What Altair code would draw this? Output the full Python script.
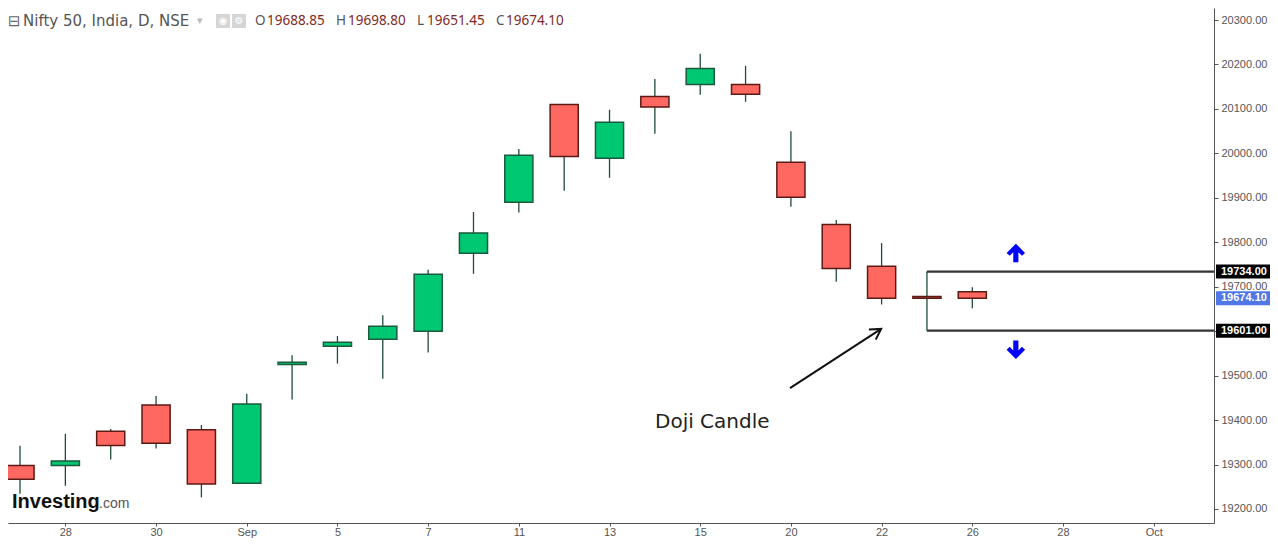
import altair as alt
import pandas as pd

# ---------------- data ----------------
DATES = ["Aug 25", "Aug 28", "Aug 29", "Aug 30", "Aug 31", "Sep 1", "Sep 4", "Sep 5", "Sep 6",
         "Sep 7", "Sep 8", "Sep 11", "Sep 12", "Sep 13", "Sep 14", "Sep 15", "Sep 18", "Sep 20",
         "Sep 21", "Sep 22", "Sep 25", "Sep 26"]
OPENS = [19298, 19298, 19375, 19434, 19378, 19258, 19525, 19566, 19582, 19600, 19775, 19890,
         20110, 19989, 20128, 20155, 20155, 19980, 19840, 19746, 19678, 19688.85]
HIGHS = [19342, 19369, 19380, 19454, 19389, 19459, 19546, 19589, 19636, 19738, 19868, 20010,
         20111, 20098, 20167, 20224, 20197, 20050, 19850, 19798, 19734, 19698.80]
LOWS = [19234, 19252, 19311, 19336, 19226, 19257, 19446, 19527, 19493, 19552, 19729, 19867,
        19916, 19945, 20044, 20132, 20116, 19880, 19711, 19660, 19601, 19651.45]
CLOSES = [19267, 19308, 19343, 19348, 19256, 19436, 19530, 19575, 19611, 19728, 19821, 19996,
          19993, 20070, 20104, 20191, 20133, 19901, 19741, 19674, 19674, 19674.10]

TICK_IDX = [1, 3, 5, 7, 9, 11, 13, 15, 17, 19, 21, 23, 25]
TICK_LABELS = ["28", "30", "Sep", "5", "7", "11", "13", "15", "20", "22", "26", "28", "Oct"]
Y_TICKS = [19200, 19300, 19400, 19500, 19600, 19700, 19800, 19900, 20000, 20100, 20200, 20300]

LEVELS = [19734.0, 19601.0]
LEVEL_START = 20
TAG_VALUES = [19734.0, 19601.0, 19674.10]
TAG_COLORS = ["#000000", "#000000", "#4f78e6"]

ARROW_SEG = [0, 0, 1, 1, 1]
ARROW_ORD = [0, 1, 0, 1, 2]
ARROW_X = [16.98, 18.99, 18.72, 18.99, 18.87]
ARROW_Y = [19472, 19605, 19603.5, 19605, 19581]

SIGNAL_X = [21.96, 21.96]
SIGNAL_Y = [19776, 19558]
SIGNAL_DIR = ["up", "down"]

HEADER = "Nifty 50, India, D, NSE"
OHLC_KEYS = ["O", "H", "L", "C"]
OHLC_VALS = ["19688.85", "19698.80", "19651.45", "19674.10"]

X_MIN, X_MAX = -0.265, 26.33
Y_MIN, Y_MAX = 19168.4, 20327.0

# ---------------- styles ----------------
GREEN = "#00c872"
RED = "#ff6860"
GREEN_EDGE = "#1b5a3c"
RED_EDGE = "#5c1a14"
WICK = "#1f4d36"
AXIS_GREY = "#555555"
PLOT_W, PLOT_H = 1206, 515

df = pd.DataFrame({"date": DATES, "i": list(range(len(DATES))), "open": OPENS,
                   "high": HIGHS, "low": LOWS, "close": CLOSES})

xscale = alt.Scale(domain=[X_MIN, X_MAX], nice=False, zero=False)
yscale = alt.Scale(domain=[Y_MIN, Y_MAX], nice=False, zero=False)

label_expr = ("[" + ",".join(f"'{s}'" for s in TICK_LABELS) + "][indexof(["
              + ",".join(str(v) for v in TICK_IDX) + "], datum.value)]")

xaxis = alt.Axis(values=TICK_IDX, labelExpr=label_expr, title=None, grid=False,
                 tickSize=3, labelPadding=0, labelColor=AXIS_GREY, labelFont="Liberation Sans",
                 labelFontSize=11, domainColor=AXIS_GREY, tickColor=AXIS_GREY,
                 labelFontWeight={"condition": {"test": "datum.label == 'Sep'", "value": "bold"},
                                  "value": "normal"})
yaxis = alt.Axis(orient="right", values=Y_TICKS, format=".2f", title=None, grid=False,
                 tickSize=4, labelPadding=3, labelColor=AXIS_GREY, labelFont="Liberation Sans",
                 labelFontSize=11, domainColor=AXIS_GREY, tickColor=AXIS_GREY)

base = alt.Chart(df)

wicks = base.mark_rule(color=WICK, strokeWidth=1.3).encode(
    x=alt.X("i:Q", scale=xscale, axis=xaxis),
    y=alt.Y("low:Q", scale=yscale, axis=yaxis),
    y2="high:Q",
)

bodies = base.transform_calculate(
    x0="datum.i - 0.31", x1="datum.i + 0.31",
    top="max(datum.open, datum.close)", bot="min(datum.open, datum.close)",
).mark_rect(strokeWidth=1.5).encode(
    x=alt.X("x0:Q", scale=xscale, title=None),
    x2="x1:Q",
    y=alt.Y("bot:Q", scale=yscale, title=None),
    y2="top:Q",
    fill=alt.condition("datum.close < datum.open", alt.value(RED), alt.value(GREEN)),
    stroke=alt.condition("datum.close < datum.open", alt.value(RED_EDGE), alt.value(GREEN_EDGE)),
)

lev_df = pd.DataFrame({"v": LEVELS, "xs": [LEVEL_START] * len(LEVELS), "xe": [X_MAX] * len(LEVELS)})
levels = alt.Chart(lev_df).mark_rule(color="#333333", strokeWidth=2.2).encode(
    x=alt.X("xs:Q", scale=xscale, title=None), x2="xe:Q",
    y=alt.Y("v:Q", scale=yscale, title=None),
)

tag_df = pd.DataFrame({"v": TAG_VALUES, "c": TAG_COLORS})
tag_boxes = alt.Chart(tag_df).mark_rect(yOffset=-7, y2Offset=7).encode(
    x=alt.value(PLOT_W + 2), x2=alt.value(PLOT_W + 56),
    y=alt.Y("v:Q", scale=yscale, title=None), y2="v:Q",
    fill=alt.Color("c:N", scale=None),
)
tag_text = alt.Chart(tag_df).mark_text(align="left", baseline="middle", color="white",
                                       font="Liberation Sans", fontSize=11, fontWeight="bold").encode(
    x=alt.value(PLOT_W + 7), y=alt.Y("v:Q", scale=yscale, title=None),
    text=alt.Text("v:Q", format=".2f"),
)

arrow_df = pd.DataFrame({"seg": ARROW_SEG, "ord": ARROW_ORD, "x": ARROW_X, "y": ARROW_Y})
arrow = alt.Chart(arrow_df).mark_line(color="#111111", strokeWidth=2).encode(
    x=alt.X("x:Q", scale=xscale, title=None),
    y=alt.Y("y:Q", scale=yscale, title=None),
    detail="seg:N", order="ord:Q",
)

UP_PATH = ("M0,-1 L1,0 L0.66,0.32 L0.28,-0.08 L0.28,1 L-0.28,1 L-0.28,-0.08 "
           "L-0.66,0.32 L-1,0 Z")
DOWN_PATH = ("M0,1 L1,0 L0.66,-0.32 L0.28,0.08 L0.28,-1 L-0.28,-1 L-0.28,0.08 "
             "L-0.66,-0.32 L-1,0 Z")
sig_df = pd.DataFrame({"x": SIGNAL_X, "y": SIGNAL_Y,
                       "shape": [UP_PATH if d == "up" else DOWN_PATH for d in SIGNAL_DIR]})
signals = alt.Chart(sig_df).mark_point(filled=True, size=340, color="#0000ff", opacity=1).encode(
    x=alt.X("x:Q", scale=xscale, title=None),
    y=alt.Y("y:Q", scale=yscale, title=None),
    shape=alt.Shape("shape:N", scale=None),
)

doji_text = alt.Chart(pd.DataFrame({"t": ["Doji Candle"]})).mark_text(
    align="left", baseline="middle", font="DejaVu Sans", fontSize=20, color="#222222").encode(
    x=alt.value(647), y=alt.value(414), text="t:N")

header = alt.Chart(pd.DataFrame({"t": [HEADER]})).mark_text(
    align="left", baseline="middle", font="DejaVu Sans", fontSize=15, color="#555555").encode(
    x=alt.value(15), y=alt.value(13), text="t:N")

minus_box = alt.Chart(pd.DataFrame({"t": ["\u229f"]})).mark_text(
    align="left", baseline="middle", font="DejaVu Sans", fontSize=15, color="#666666").encode(
    x=alt.value(0), y=alt.value(13), text="t:N")

dropdown = alt.Chart(pd.DataFrame({"t": ["\u25be"]})).mark_text(
    align="left", baseline="middle", font="DejaVu Sans", fontSize=11, color="#bbbbbb").encode(
    x=alt.value(189), y=alt.value(13), text="t:N")

icon_df = pd.DataFrame({"x0": [208, 224], "x1": [222, 238], "g": ["\u25c9", "\u2699"], "xc": [215, 231]})
icons = alt.Chart(icon_df).mark_rect(color="#d6d6d6").encode(
    x=alt.X("x0:Q", scale=None), x2="x1:Q", y=alt.value(6), y2=alt.value(20))
icon_glyphs = alt.Chart(icon_df).mark_text(font="DejaVu Sans", fontSize=10, color="white",
                                           baseline="middle").encode(
    x=alt.X("xc:Q", scale=None), y=alt.value(13), text="g:N")

ohlc_df = pd.DataFrame({"k": OHLC_KEYS, "v": OHLC_VALS,
                        "kx": [247, 328, 409, 488], "vx": [259, 340, 419, 498]})
ohlc_keys = alt.Chart(ohlc_df).mark_text(align="left", baseline="middle", font="Noto Sans",
                                         fontSize=13.5, color="#555555").encode(
    x=alt.X("kx:Q", scale=None), y=alt.value(13), text="k:N")
ohlc_vals = alt.Chart(ohlc_df).mark_text(align="left", baseline="middle", font="Noto Sans",
                                         fontSize=13.5, color="#7f2a1f").encode(
    x=alt.X("vx:Q", scale=None), y=alt.value(13), text="v:N")

logo1 = alt.Chart(pd.DataFrame({"t": ["Investing"]})).mark_text(
    align="left", baseline="alphabetic", font="Liberation Sans", fontWeight="bold",
    fontSize=20, color="#111111").encode(x=alt.value(4), y=alt.value(500), text="t:N")
logo2 = alt.Chart(pd.DataFrame({"t": [".com"]})).mark_text(
    align="left", baseline="alphabetic", font="Liberation Sans",
    fontSize=14, color="#555555").encode(x=alt.value(91), y=alt.value(500), text="t:N")

chart = alt.layer(
    wicks, bodies, levels, arrow, signals, tag_boxes, tag_text, doji_text,
    header, minus_box, dropdown, icons, icon_glyphs, ohlc_keys, ohlc_vals, logo1, logo2,
).properties(
    width=PLOT_W, height=PLOT_H, background="white",
    autosize=alt.AutoSizeParams(type="none"),
    padding={"left": 0, "top": 0, "right": 56, "bottom": 15},
).configure_view(stroke=None)

chart.save("out.html", embed_options={"renderer": "svg", "actions": False})
